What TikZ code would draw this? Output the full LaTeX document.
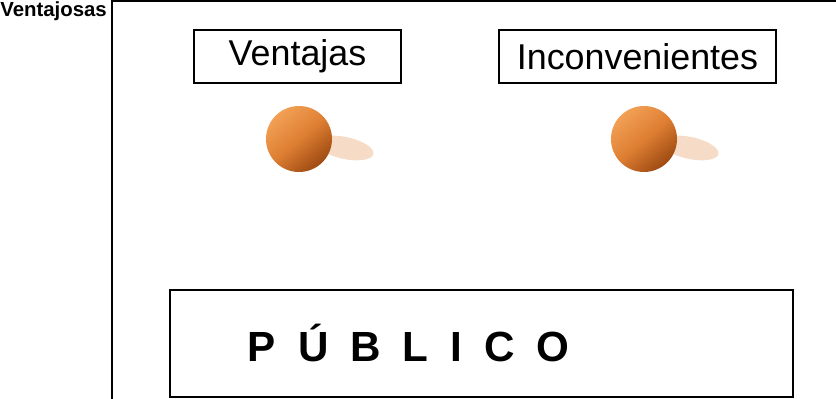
\documentclass[tikz,border=0pt]{standalone}
\usepackage{fontspec}
\setmainfont{Liberation Sans}
\usepackage{xcolor}
\usetikzlibrary{shapes,arrows,positioning}

\definecolor{ballhi}{HTML}{F2A055}
\definecolor{ballmid}{HTML}{DE7F33}
\definecolor{balllo}{HTML}{9E4A12}
\definecolor{shadowc}{HTML}{F6DCC6}

\begin{document}
\begin{tikzpicture}[
    x=0.025cm, y=-0.025cm,
    box/.style={draw, line width=1.4pt, rectangle, align=center, inner sep=0pt},
    ball/.style={circle, minimum size=1.65cm, inner sep=0pt, shading=axis,
        top color=ballhi, bottom color=balllo, middle color=ballmid, shading angle=40},
    shade/.style={ellipse, minimum width=1.45cm, minimum height=0.55cm, inner sep=0pt,
        fill=shadowc, rotate=-12}
]
    \useasboundingbox (0,0) rectangle (836,399);

    % Frame
    \draw[line width=2.1pt] (112,399) -- (112,1) -- (836,1);

    % Title
    \node[anchor=north west, inner sep=0pt, font=\bfseries\fontsize{14.5}{14.5}\selectfont] (title) at (0,1) {Ventajosas};

    % Labels
    \node[box, minimum width=5.175cm, minimum height=1.325cm,
        font=\fontsize{25.5}{26}\selectfont] (ventajas) at (297.5,56.5) {Ventajas};
    \node[box, minimum width=6.925cm, minimum height=1.325cm,
        font=\fontsize{25.5}{26}\selectfont] (inconv) at (637.5,56.5) {Inconvenientes};

    % Balls with shadows
    \node[shade] (sombra1) at (345,148) {};
    \node[ball] (bola1) at (299,139) {};
    \node[shade] (sombra2) at (690,148) {};
    \node[ball] (bola2) at (644,139) {};

    % Bottom box
    \node[box, align=left, text width=11.675cm, inner xsep=1.95cm, minimum height=2.675cm,
        font=\bfseries\fontsize{30}{30}\selectfont] (publico) at (481.5,343.5)
        {P\hspace{0.55cm}Ú\hspace{0.55cm}B\hspace{0.55cm}L\hspace{0.55cm}I\hspace{0.55cm}C\hspace{0.55cm}O};
\end{tikzpicture}
\end{document}
